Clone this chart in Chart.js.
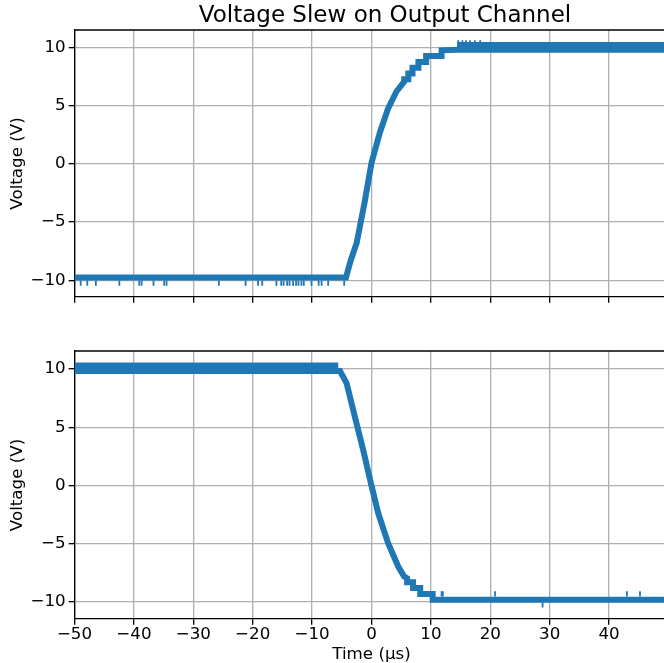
<!DOCTYPE html>
<html>
<head>
<meta charset="utf-8">
<script src="https://cdn.jsdelivr.net/npm/chart.js@4.4.1/dist/chart.umd.min.js"></script>
<style>
  html, body { margin: 0; padding: 0; background: #fff; overflow: hidden; width: 664px; height: 663px; }
  .panel { position: absolute; left: 0; }
  #topWrap { top: 0; }
  #botWrap { top: 320px; }
</style>
</head>
<body>
<div class="panel" id="topWrap"><canvas id="topChart" width="770" height="320"></canvas></div>
<div class="panel" id="botWrap"><canvas id="botChart" width="770" height="343"></canvas></div>
<script>
// ---- data ----
// the original figure is wider than the picture; its right part is cropped away
const xTicks = [-50, -40, -30, -20, -10, 0, 10, 20, 30, 40];
const yTicks = [-10, -5, 0, 5, 10];
const xMin = -50, xMax = 50;

// top panel: rising edge (centre of the trace, with its quantisation steps)
const topTime  = [-50, -4.3, -3.5, -2.5, -1.2, 0.0, 1.4, 2.8, 4.2, 5.5, 5.5, 6.2, 6.2, 6.9, 6.9, 7.9, 7.9, 9.2, 9.2, 11.8, 11.8, 14.4, 50];
const topVolts = [-9.77, -9.77, -8.3, -6.8, -3.4, 0.1, 2.7, 4.8, 6.25, 7.1, 7.3, 7.3, 7.8, 7.8, 8.3, 8.3, 8.8, 8.8, 9.3, 9.3, 9.8, 9.85, 9.85];
// upper quantisation level of the settled trace
const topHiTime  = [14.4, 50];
const topHiVolts = [10.25, 10.25];
// glitches below the -10 V level
const topDipTimes = [-48.96, -47.85, -46.4, -42.45, -39.1, -38.7, -36.7, -34.9, -34.5, -25.7, -21.2,
  -19.1, -18.4, -16.0, -15.2, -14.8, -14.2, -13.8, -13.2, -12.7, -12.3, -11.8, -11.4, -10.1, -8.9, -8.4, -7.3, -4.6];
const topDipVolt = -10.25;
const topPeakTimes = [14.6, 15.3, 15.9, 16.6, 17.4, 18.3];
const topPeakVolt = 10.45;

// bottom panel: falling edge
const botTime  = [-50, -5.3, -4.2, -2.8, -1.4, -0.1, 1.15, 2.8, 4.5, 5.5, 6.0, 6.0, 7.0, 7.0, 8.2, 8.2, 10.3, 10.3, 50];
const botVolts = [9.83, 9.83, 8.8, 5.9, 3.05, 0.2, -2.4, -4.95, -6.95, -7.8, -7.95, -8.3, -8.3, -8.8, -8.8, -9.3, -9.3, -9.8, -9.8];
const botHiTime  = [-50, -5.6];
const botHiVolts = [10.31, 10.31];
const botPeakTimes = [11.8, 12.0, 20.8, 43.0, 45.2];
const botPeakVolt = -9.3;
const botDipTimes = [28.8];
const botDipVolt = -10.25;

const BLUE = "#1f77b4";
const FONT = "'DejaVu Sans', sans-serif";
const TICK_PX = 16.7;

function pts(xs, ys) {
  return xs.map((x, i) => ({ x, y: Array.isArray(ys) ? ys[i] : ys }));
}
function minus(v) {
  return String(v).replace("-", "\u2212");
}

function traceSet(data) {
  return { data, showLine: true, borderColor: BLUE, borderWidth: 6, pointRadius: 0,
    tension: 0, borderCapStyle: "butt", borderJoinStyle: "miter", clip: 0 };
}
function spikeSet(data) {
  return { data, showLine: false, pointStyle: "line", rotation: 90, pointRadius: 2.6,
    borderColor: BLUE, borderWidth: 1.8, clip: 0 };
}

// matplotlib draws a top spine too
const topSpine = {
  id: "topSpine",
  afterDraw(chart) {
    const { ctx, chartArea: a } = chart;
    ctx.save();
    ctx.strokeStyle = "#000";
    ctx.lineWidth = 1.33;
    ctx.beginPath();
    ctx.moveTo(a.left, a.top);
    ctx.lineTo(a.right, a.top);
    ctx.stroke();
    ctx.restore();
  }
};

function makeOptions(showXLabels, xHeight, padTop, withTitle) {
  return {
    responsive: false,
    animation: false,
    layout: { padding: { top: padTop, right: 0, left: 0, bottom: 0 } },
    plugins: {
      legend: { display: false },
      tooltip: { enabled: false },
      title: {
        display: withTitle,
        text: "Voltage Slew on Output Channel",
        fullSize: true,
        color: "#000",
        font: { family: FONT, size: 23, weight: "normal" },
        padding: { top: 2.4, bottom: 0 }
      }
    },
    scales: {
      x: {
        type: "linear",
        min: xMin,
        max: xMax,
        afterBuildTicks: s => { s.ticks = xTicks.map(v => ({ value: v })); },
        afterFit: s => { s.height = xHeight; },
        grid: { color: "#b0b0b0", lineWidth: 1.33, tickColor: "#000", tickWidth: 1.33, tickLength: 5.8 },
        border: { display: true, color: "#000", width: 1.33 },
        ticks: {
          display: showXLabels,
          padding: 0,
          maxRotation: 0,
          color: "#000",
          font: { family: FONT, size: TICK_PX },
          callback: v => minus(v)
        },
        title: {
          display: showXLabels,
          text: "Time (\u03bcs)",
          color: "#000",
          font: { family: FONT, size: TICK_PX, lineHeight: 1.0 },
          padding: { top: 0, bottom: 0 }
        }
      },
      y: {
        type: "linear",
        min: -11.45,
        max: 11.55,
        afterBuildTicks: s => { s.ticks = yTicks.map(v => ({ value: v })); },
        afterFit: s => { s.width = 74.5; },
        grid: { color: "#b0b0b0", lineWidth: 1.33, tickColor: "#000", tickWidth: 1.33, tickLength: 5.8 },
        border: { display: true, color: "#000", width: 1.33 },
        ticks: {
          padding: 3,
          color: "#000",
          font: { family: FONT, size: TICK_PX },
          callback: v => minus(v)
        },
        title: {
          display: true,
          text: "Voltage (V)",
          color: "#000",
          font: { family: FONT, size: TICK_PX },
          padding: { top: 8, bottom: 0 }
        }
      },
      // empty right-hand margin of the (cropped) figure
      margin: {
        type: "linear",
        position: "right",
        display: true,
        afterFit: s => { s.width = 101.5; },
        grid: { display: false, drawTicks: false },
        border: { display: false },
        ticks: { display: false }
      }
    }
  };
}

new Chart(document.getElementById("topChart"), {
  type: "scatter",
  data: {
    datasets: [
      traceSet(pts(topTime, topVolts)),
      traceSet(pts(topHiTime, topHiVolts)),
      spikeSet(pts(topDipTimes, topDipVolt)),
      spikeSet(pts(topPeakTimes, topPeakVolt))
    ]
  },
  options: makeOptions(false, 23, 0, true),
  plugins: [topSpine]
});

new Chart(document.getElementById("botChart"), {
  type: "scatter",
  data: {
    datasets: [
      traceSet(pts(botTime, botVolts)),
      traceSet(pts(botHiTime, botHiVolts)),
      spikeSet(pts(botPeakTimes, botPeakVolt)),
      spikeSet(pts(botDipTimes, botDipVolt))
    ]
  },
  options: makeOptions(true, 44, 31, false),
  plugins: [topSpine]
});
</script>
</body>
</html>
